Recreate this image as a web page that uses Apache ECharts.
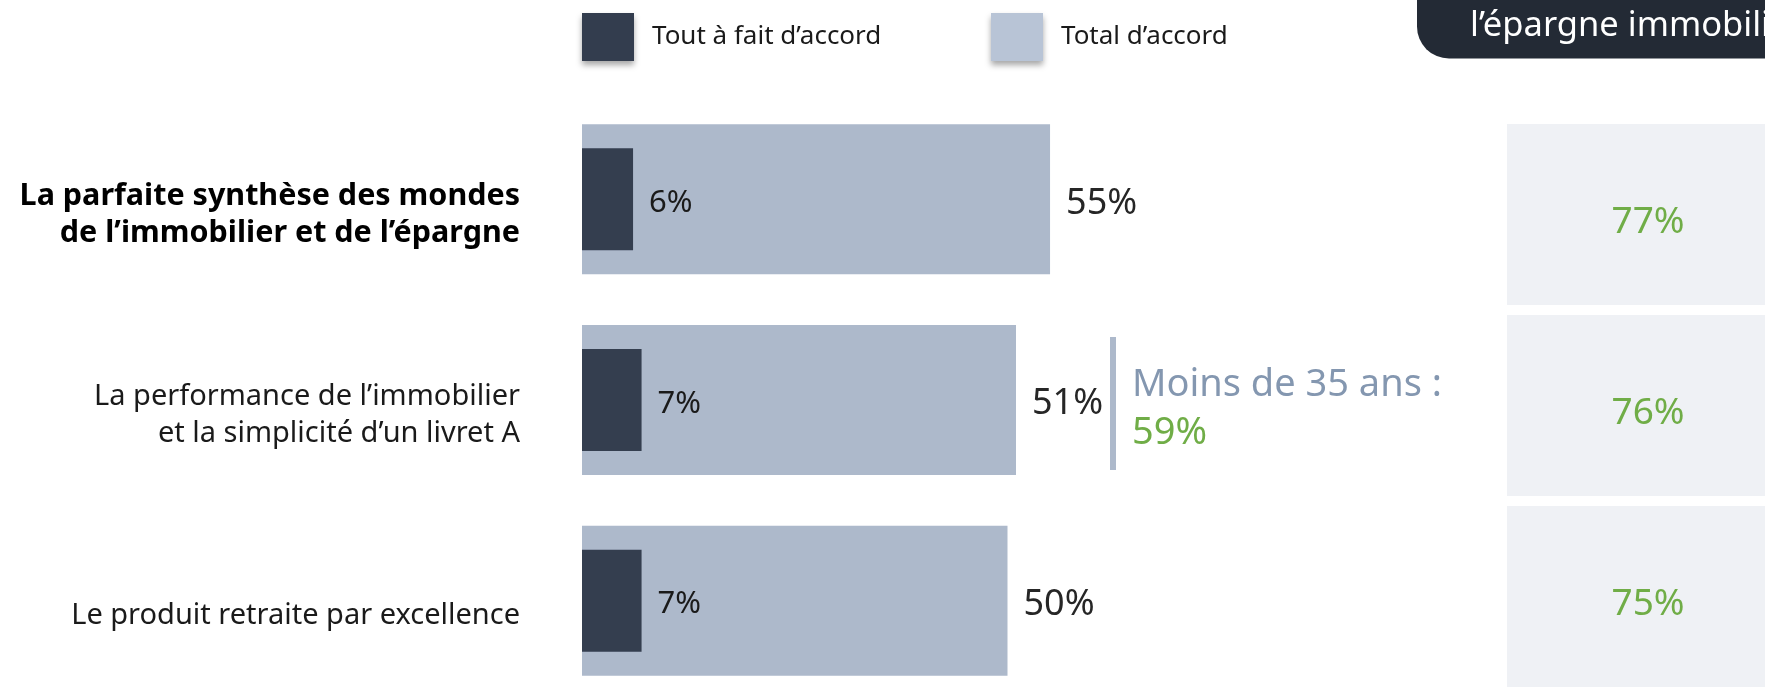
<!DOCTYPE html>
<html>
<head>
<meta charset="utf-8">
<script src="https://cdn.jsdelivr.net/npm/echarts@6/dist/echarts.min.js"></script>
<style>
html,body{margin:0;padding:0;background:#fff;}
#chart{width:1765px;height:690px;}
</style>
</head>
<body>
<div id="chart"></div>
<script>
// ---- data ----
const categories = [
  "La parfaite synthèse des mondes\nde l’immobilier et de l’épargne",
  "La performance de l’immobilier\net la simplicité d’un livret A",
  "Le produit retraite par excellence"
];
const seriesNames = ["Tout à fait d’accord", "Total d’accord"];
const toutAFaitDAccord = [6, 7, 7];
const totalDAccord = [55, 51, 50];
const epargneImmobiliere = [77, 76, 75];
const headerText = "l’épargne immobilière";
const subgroupLabel = "Moins de 35 ans :";
const subgroupValue = 59;

const FONT = "'Noto Sans', sans-serif";
const chart = echarts.init(document.getElementById('chart'));

const legendCommon = {
  orient: 'horizontal', icon: 'rect', itemWidth: 52, itemHeight: 48, top: 13, padding: 0,
  selectedMode: false,
  textStyle: { fontFamily: FONT, fontSize: 26, color: '#1a1a1a', padding: [2, 0, 0, 13] }
};

chart.setOption({
  animation: false,
  backgroundColor: '#ffffff',
  textStyle: { fontFamily: FONT },
  legend: [
    Object.assign({}, legendCommon, { left: 582, data: [{ name: seriesNames[0], itemStyle: { color: '#333d4e', shadowColor: 'rgba(0,0,0,0.35)', shadowBlur: 6, shadowOffsetY: 4 } }] }),
    Object.assign({}, legendCommon, { left: 991, data: [{ name: seriesNames[1], itemStyle: { color: '#b8c4d6', shadowColor: 'rgba(0,0,0,0.35)', shadowBlur: 6, shadowOffsetY: 4 } }] })
  ],
  grid: [
    { left: 582, top: 99, width: 851, height: 602, outerBoundsMode: 'none', containLabel: false },
    { left: 1507, width: 270, top: 119, height: 573, outerBoundsMode: 'none', containLabel: false }
  ],
  xAxis: [
    { type: 'value', gridIndex: 0, min: 0, max: 100, show: false },
    { type: 'value', gridIndex: 1, min: 0, max: 100, show: false }
  ],
  yAxis: [
    {
      type: 'category', gridIndex: 0, data: categories, inverse: true,
      axisLine: { show: false }, axisTick: { show: false },
      axisLabel: {
        margin: 62, fontSize: 29, lineHeight: 37, color: '#1a1a1a', fontFamily: FONT,
        padding: [30, 0, 0, 0], align: 'right',
        formatter: function (v, i) {
          if (i === 0) return v.split('\n').map(s => '{b|' + s + '}').join('\n');
          return v;
        },
        rich: { b: { fontWeight: 'bold', fontSize: 30.5, lineHeight: 37, color: '#000', fontFamily: FONT } }
      }
    },
    { type: 'category', gridIndex: 0, data: categories, inverse: true, show: false },
    { type: 'category', gridIndex: 1, data: categories, inverse: true, show: false }
  ],
  series: [
    {
      name: seriesNames[1], type: 'bar', xAxisIndex: 0, yAxisIndex: 0,
      data: totalDAccord, barWidth: 150,
      itemStyle: { color: '#adb9cb' },
      label: { show: true, position: 'right', distance: 16, offset: [0, 4], fontSize: 36, color: '#262626', fontFamily: FONT, formatter: '{c}%' }
    },
    {
      name: seriesNames[0], type: 'bar', xAxisIndex: 0, yAxisIndex: 1,
      data: toutAFaitDAccord, barWidth: 102,
      itemStyle: { color: '#343e4f' },
      label: { show: true, position: 'right', distance: 16, offset: [0, 4], fontSize: 31, color: '#1a1a1a', fontFamily: FONT, formatter: '{c}%' }
    },
    {
      name: 'epargne', type: 'bar', xAxisIndex: 1, yAxisIndex: 2,
      data: epargneImmobiliere, barWidth: 181,
      itemStyle: { color: 'rgba(0,0,0,0)' },
      showBackground: true, backgroundStyle: { color: '#eff1f5' },
      label: { show: true, position: [141, '50%'], align: 'center', verticalAlign: 'middle', offset: [0, 8], fontSize: 37, color: '#70ad47', fontFamily: FONT, formatter: '{c}%' }
    }
  ],
  graphic: [
    { type: 'rect', shape: { x: 1417, y: -30, width: 420, height: 88.5, r: [0, 0, 0, 32] }, style: { fill: '#232a35' } },
    { type: 'text', x: 1470, y: 26, style: { text: headerText, fill: '#ffffff', fontSize: 34.5, fontFamily: FONT, verticalAlign: 'middle' } },
    { type: 'rect', shape: { x: 1110, y: 337, width: 6, height: 133 }, style: { fill: '#adb9cb' } },
    { type: 'text', x: 1132, y: 385, style: { text: subgroupLabel, fill: '#8497b0', fontSize: 38, fontFamily: FONT, verticalAlign: 'middle' } },
    { type: 'text', x: 1132, y: 433, style: { text: subgroupValue + '%', fill: '#70ad47', fontSize: 38, fontFamily: FONT, verticalAlign: 'middle' } }
  ]
});
</script>
</body>
</html>
